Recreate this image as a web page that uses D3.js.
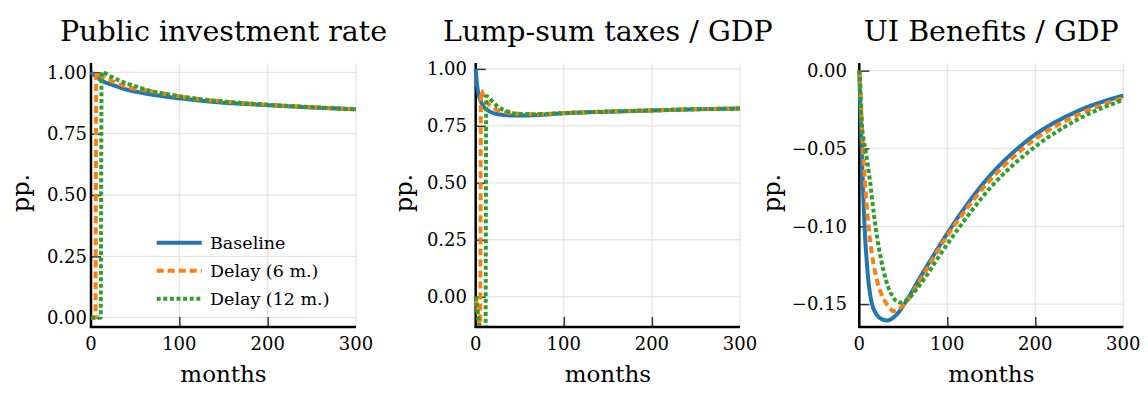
<!DOCTYPE html>
<html>
<head>
<meta charset="utf-8">
<script src="https://cdn.jsdelivr.net/npm/d3@7"></script>
<style>
  html, body { margin: 0; padding: 0; background: #fff; }
  svg { display: block; }
  text { font-family: "DejaVu Serif", serif; fill: #000; }
</style>
</head>
<body>
<svg id="chart" width="1148" height="394"></svg>
<script>
// ---------- data ----------
const xTicks = [0, 100, 200, 300];
const xTickLabels = ["0", "100", "200", "300"];

const titles = ["Public investment rate", "Lump-sum taxes / GDP", "UI Benefits / GDP"];
const seriesNames = ["Baseline", "Delay (6 m.)", "Delay (12 m.)"];

// Panel 1: Public investment rate
const invYTicks = [0, 0.25, 0.5, 0.75, 1.0];
const invYTickLabels = ["0.00", "0.25", "0.50", "0.75", "1.00"];
const invBaseT = [0, 5, 10, 25, 40, 63, 100, 150, 200, 250, 300];
const invBaseV = [1.0, 0.985, 0.97, 0.948, 0.93, 0.913, 0.894, 0.876, 0.866, 0.857, 0.849];
const invD6T = [0, 1, 2, 3, 4, 5, 6, 12, 25, 40, 63, 81, 100, 150, 200, 250, 300];
const invD6V = [0, 0, 0, 0, 0, 0, 1.0, 0.985, 0.962, 0.941, 0.926, 0.914, 0.902, 0.881, 0.868, 0.858, 0.849];
const invD12T = [0, 3, 6, 9, 11, 12, 23, 35, 46, 57, 70, 93, 116, 150, 200, 250, 300];
const invD12V = [0, 0, 0, 0, 0, 1.0, 0.982, 0.962, 0.948, 0.935, 0.921, 0.907, 0.894, 0.881, 0.868, 0.858, 0.849];

// Panel 2: Lump-sum taxes / GDP
const taxYTicks = [0, 0.25, 0.5, 0.75, 1.0];
const taxYTickLabels = ["0.00", "0.25", "0.50", "0.75", "1.00"];
const taxBaseT = [0, 1, 2, 3, 5, 7, 10, 15, 25, 40, 60, 100, 150, 200, 250, 300];
const taxBaseV = [1.0, 0.95, 0.915, 0.893, 0.865, 0.848, 0.83, 0.815, 0.801, 0.796, 0.796, 0.805, 0.812, 0.818, 0.823, 0.826];
const taxD6T = [0, 1, 2, 3, 4, 5, 6, 10, 14, 20, 30, 50, 70, 100, 150, 200, 250, 300];
const taxD6V = [0, -0.03, -0.06, -0.09, -0.12, -0.15, 0.905, 0.87, 0.849, 0.83, 0.812, 0.803, 0.801, 0.806, 0.813, 0.818, 0.823, 0.826];
const taxD12T = [0, 1, 2, 3, 4, 5, 11, 12, 18, 25, 37, 50, 64, 100, 150, 200, 250, 300];
const taxD12V = [0, -0.03, -0.06, -0.09, -0.12, -0.15, -0.33, 0.88, 0.861, 0.835, 0.812, 0.802, 0.801, 0.806, 0.813, 0.818, 0.823, 0.826];

// Panel 3: UI Benefits / GDP
const uiYTicks = [0, -0.05, -0.10, -0.15];
const uiYTickLabels = ["0.00", "\u22120.05", "\u22120.10", "\u22120.15"];
const uiBaseT = [0, 1, 2, 3, 4, 5, 6, 7, 8.4, 10, 14, 20, 26, 32, 38, 45, 55, 70, 90, 100, 125, 150, 175, 200, 250, 300];
const uiBaseV = [0, -0.02, -0.037, -0.055, -0.072, -0.088, -0.101, -0.111, -0.122, -0.133, -0.149, -0.157, -0.1598, -0.1605, -0.159, -0.155, -0.1465, -0.132, -0.1135, -0.1045, -0.084, -0.0665, -0.0525, -0.041, -0.0255, -0.016];
const uiD6T = [0, 1, 2, 3, 4.5, 6.5, 9.5, 12, 16, 20, 25.5, 30, 35, 38, 45, 52, 63, 75, 85, 100, 125, 150, 175, 200, 250, 300];
const uiD6V = [0, -0.008, -0.02, -0.035, -0.053, -0.072, -0.094, -0.108, -0.124, -0.1345, -0.144, -0.149, -0.1527, -0.1545, -0.153, -0.1495, -0.1405, -0.129, -0.1195, -0.106, -0.0865, -0.0695, -0.0555, -0.044, -0.028, -0.0175];
const uiD12T = [0, 1, 2, 3, 4.5, 6.5, 8.4, 10.2, 12.2, 14, 17, 20.5, 25, 30, 35, 41, 47, 55, 65, 76, 88, 100, 125, 150, 175, 200, 250, 300];
const uiD12V = [0, -0.01, -0.026, -0.036, -0.043, -0.0495, -0.056, -0.063, -0.071, -0.08, -0.094, -0.108, -0.122, -0.134, -0.142, -0.1475, -0.149, -0.147, -0.1405, -0.132, -0.1215, -0.1115, -0.092, -0.0745, -0.0605, -0.0488, -0.0308, -0.0188];

// ---------- styles / layout ----------
const colors = ["#1f77b4", "#ff7f0e", "#2ca02c"];
const dashes = [null, "7,4", "4,2.6"];
const lineW = 4;

const panels = [
  { title: titles[0], left: 91, right: 356, yDomain: [-0.038, 1.038], yTicks: invYTicks, yLabels: invYTickLabels,
    labelRight: 87, ppX: 22,
    series: [[invBaseT, invBaseV], [invD6T, invD6V], [invD12T, invD12V]] },
  { title: titles[1], left: 475.7, right: 740, yDomain: [-0.133, 1.026], yTicks: taxYTicks, yLabels: taxYTickLabels,
    labelRight: 467, ppX: 405,
    series: [[taxBaseT, taxBaseV], [taxD6T, taxD6V], [taxD12T, taxD12V]] },
  { title: titles[2], left: 859.3, right: 1123.3, yDomain: [-0.1647, 0.0049], yTicks: uiYTicks, yLabels: uiYTickLabels,
    labelRight: 847, ppX: 773,
    series: [[uiBaseT, uiBaseV], [uiD6T, uiD6V], [uiD12T, uiD12V]] }
];
const plotTop = 63, plotBottom = 327;

const svg = d3.select("#chart");

panels.forEach((p, pi) => {
  const x = d3.scaleLinear().domain([0, 300]).range([p.left, p.right]);
  const y = d3.scaleLinear().domain(p.yDomain).range([plotBottom, plotTop]);
  const g = svg.append("g");

  // grid
  g.selectAll(".gx").data(xTicks).enter().append("line")
    .attr("x1", d => x(d)).attr("x2", d => x(d)).attr("y1", plotTop).attr("y2", plotBottom)
    .attr("stroke", "#e5e5e5").attr("stroke-width", 1.3);
  g.selectAll(".gy").data(p.yTicks).enter().append("line")
    .attr("x1", p.left).attr("x2", p.right).attr("y1", d => y(d)).attr("y2", d => y(d))
    .attr("stroke", "#e5e5e5").attr("stroke-width", 1.3);

  // axes (d3 axes with inward ticks, labels placed separately)
  const yAxis = d3.axisRight(y).tickValues(p.yTicks).tickSize(10).tickFormat("");
  const ya = g.append("g").attr("transform", `translate(${p.left},0)`).call(yAxis);
  const xAxis = d3.axisTop(x).tickValues([100, 200]).tickSize(10).tickFormat("");
  const xa = g.append("g").attr("transform", `translate(0,${plotBottom})`).call(xAxis);
  [ya, xa].forEach(a => {
    a.select(".domain").remove();
    a.selectAll(".tick line").attr("stroke", "#333").attr("stroke-width", 1.5);
  });

  // tick labels
  g.selectAll(".yl").data(p.yTicks).enter().append("text")
    .attr("x", p.labelRight).attr("y", (d) => y(d)).attr("dy", "0.35em")
    .attr("text-anchor", "end").attr("font-size", 18)
    .text((d, i) => p.yLabels[i]);
  g.selectAll(".xl").data(xTicks).enter().append("text")
    .attr("x", d => x(d)).attr("y", 349.5).attr("text-anchor", "middle").attr("font-size", 18)
    .text((d, i) => xTickLabels[i]);

  // axis lines
  g.append("line").attr("x1", p.left).attr("x2", p.left).attr("y1", plotTop).attr("y2", plotBottom + 1)
    .attr("stroke", "#000").attr("stroke-width", 2.5);
  g.append("line").attr("x1", p.left - 1).attr("x2", p.right).attr("y1", plotBottom).attr("y2", plotBottom)
    .attr("stroke", "#000").attr("stroke-width", 2.5);

  // clip
  const cid = "clip" + pi;
  svg.append("clipPath").attr("id", cid).append("rect")
    .attr("x", p.left - 4).attr("y", plotTop - 6).attr("width", p.right - p.left + 8).attr("height", plotBottom - plotTop + 5);

  const line = d3.line().x(d => x(d[0])).y(d => y(d[1])).curve(d3.curveMonotoneX);
  const lg = g.append("g").attr("clip-path", `url(#${cid})`);
  p.series.forEach((s, si) => {
    const pts = s[0].map((t, k) => [t, s[1][k]]);
    lg.append("path").datum(pts).attr("d", line)
      .attr("fill", "none").attr("stroke", colors[si]).attr("stroke-width", lineW)
      .attr("stroke-dasharray", dashes[si]).attr("stroke-linejoin", "round");
  });

  // titles and labels
  g.append("text").attr("x", (p.left + p.right) / 2).attr("y", 41).attr("text-anchor", "middle")
    .attr("font-size", 28.5).text(p.title);
  g.append("text").attr("x", (p.left + p.right) / 2).attr("y", 382).attr("text-anchor", "middle")
    .attr("font-size", 23).text("months");
  g.append("text").attr("transform", `translate(${p.ppX},193) rotate(-90)`).attr("text-anchor", "middle")
    .attr("dy", "0.3em").attr("font-size", 24).text("pp.");

  // legend in first panel
  if (pi === 0) {
    const ly = [242.7, 270.7, 298.7];
    seriesNames.forEach((name, si) => {
      g.append("line").attr("x1", 156.7).attr("x2", 201.7).attr("y1", ly[si]).attr("y2", ly[si])
        .attr("stroke", colors[si]).attr("stroke-width", lineW).attr("stroke-dasharray", dashes[si]);
      g.append("text").attr("x", 210).attr("y", ly[si]).attr("dy", "0.35em").attr("font-size", 17.5).text(name);
    });
  }
});
</script>
</body>
</html>
